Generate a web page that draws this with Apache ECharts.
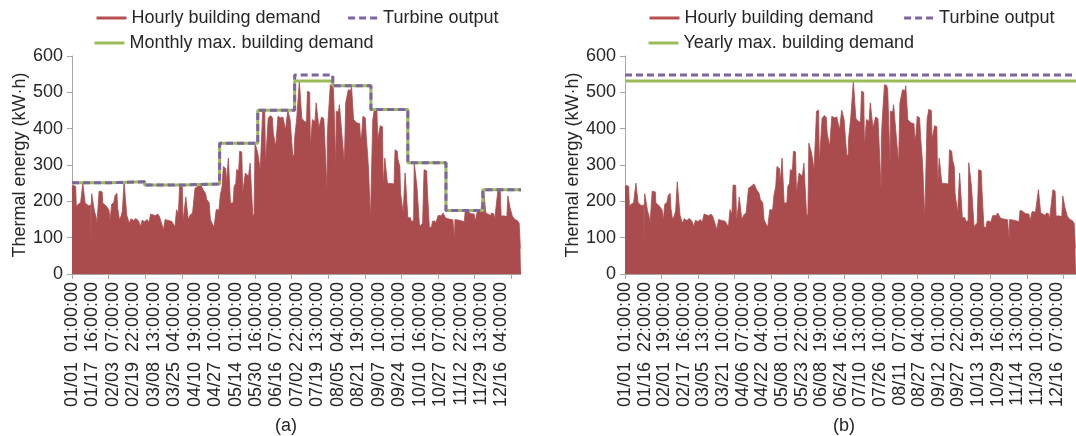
<!DOCTYPE html>
<html>
<head>
<meta charset="utf-8">
<script src="https://cdn.jsdelivr.net/npm/echarts@6/dist/echarts.min.js"></script>
<style>
html,body{margin:0;padding:0;background:#fff;}
#chart{width:1076px;height:436px;}
</style>
</head>
<body>
<div id="chart"></div>
<script>
// ---------- DATA ----------
const monthDays = [31,28,31,30,31,30,31,31,30,31,30,31];

// x tick labels (panel a / panel b)
const labelsA = ['01/01  01:00:00','01/17  16:00:00','02/03  07:00:00','02/19  22:00:00','03/08  13:00:00','03/25  04:00:00','04/10  19:00:00','04/27  10:00:00','05/14  01:00:00','05/30  16:00:00','06/16  07:00:00','07/02  22:00:00','07/19  13:00:00','08/05  04:00:00','08/21  19:00:00','09/07  10:00:00','09/24  01:00:00','10/10  16:00:00','10/27  07:00:00','11/12  22:00:00','11/29  13:00:00','12/16  04:00:00'];
const labelsB = ['01/01  01:00:00','01/16  22:00:00','02/01  19:00:00','02/17  16:00:00','03/05  13:00:00','03/21  10:00:00','04/06  07:00:00','04/22  04:00:00','05/08  01:00:00','05/23  22:00:00','06/08  19:00:00','06/24  16:00:00','07/10  13:00:00','07/26  10:00:00','08/11  07:00:00','08/27  04:00:00','09/12  01:00:00','09/27  22:00:00','10/13  19:00:00','10/29  16:00:00','11/14  13:00:00','11/30  10:00:00','12/16  07:00:00'];

// hourly building demand, envelope vertices: day of year, kW·h
const demandDay = [
0,1,3,3.5,5,7,8.3,8.8,10,10.6,12,13.3,15.2,15.4,15.6,16,17.6,18.3,19.4,20.3,21.4,22,24.5,25,27,28.5,30,31,
32.2,34,35,36.5,37.2,38.5,40,41,42.3,43.8,44.5,46.5,48,50,52,54,55.8,57,59,
61,62.5,64,65.5,67.8,69.5,71,73.1,74.4,75.7,77.5,79,81,83.7,85,86.5,87.5,89.6,90.3,
91.5,92.5,93.4,94.5,96,98,99.3,100,102,103.6,104.4,105.5,106.5,108.5,109.5,111.5,112.5,114.3,115.5,116.2,117.2,119.5,120.5,
122,123,125,125.6,126.5,127.1,128.2,128.8,131,131.8,133.2,133.8,135.5,136.3,138,138.8,140.1,140.9,142.5,143.5,144.8,146.2,147,148,148.8,150.2,151,
152.5,153,154.3,155,156.7,157.3,158.7,159.5,160.8,161.4,162.9,163.6,164.8,165.6,166.6,167.4,168.8,169.4,170.9,171.4,172.8,173.6,174.6,175.4,176.7,177.3,178.9,179.5,180.7,181,
182,182.7,184.2,184.8,186.2,186.8,187.9,188.7,190.6,191.4,193.2,193.8,194.8,195.4,197.5,198.5,200.1,200.7,202,202.8,204.7,205.5,207,207.3,207.5,208.1,209.2,210,211.8,212.6,
214,214.5,214.8,216.6,217.4,218.7,219.3,220.6,221.4,222.5,224.1,224.6,226.7,227.2,228.4,228.9,230.4,231.2,233.8,234.6,235.5,236.5,238.4,239.2,240.5,241.2,241.8,242.6,243.5,
244.5,245.8,247.9,248.5,249.8,250.6,252.4,253,253.8,254.3,255.9,256.4,261.8,262.6,264.4,265,266.5,267.1,268.4,269.2,270.3,270.8,272.4,273,
275,275.8,277.7,278.2,279.8,280.4,281.7,282.5,283.5,285,286.2,288.3,288.9,290.5,292.3,293,295,295.8,296.8,297.6,300.3,301.6,303,303.8,
305.6,306.4,309.6,310.9,311.3,314.9,316.2,318.9,319.7,321.6,322.4,324.2,325.5,326.9,327.7,328.7,329.5,332.2,333.5,
334.6,335.6,336.4,337.5,340.2,341,342.8,343.6,344.7,346.3,348.1,348.9,350.8,353.5,354.3,355.3,356.1,357.4,358,360,362,363.5,364.5,365
];
const demandValue = [
238,244,241,186,192,196,195,250,250,196,193,188,190,62,190,221,219,172,160,140,143,228,226,195,190,184,176,148,
192,197,216,222,180,150,160,175,254,254,162,140,152,147,153,146,131,148,144,
150,142,165,168,160,165,159,136,122,150,148,153,145,130,177,165,245,244,145,
150,212,210,150,162,168,166,236,241,238,248,246,232,222,205,196,150,136,130,131,177,176,215,
241,296,290,250,255,319,316,195,196,241,250,287,285,338,336,223,225,278,276,269,305,300,159,165,360,356,333,
330,287,290,448,451,305,310,429,425,436,430,388,385,351,355,434,430,430,425,432,428,397,395,451,448,425,420,324,330,374,
372,429,425,531,527,429,425,420,418,503,500,351,355,425,420,471,468,402,400,432,428,370,372,228,372,420,418,521,519,507,
505,296,448,446,466,463,388,385,305,471,468,507,505,518,514,425,422,416,414,370,384,434,430,379,320,278,278,150,152,
425,453,450,370,372,408,405,241,245,319,316,250,248,342,338,315,296,223,220,168,170,278,275,155,
155,145,146,306,302,241,238,131,133,140,287,284,230,127,130,145,146,140,142,161,160,168,166,154,
152,150,149,94,150,148,145,144,175,173,168,166,168,165,145,146,172,170,165,
232,230,168,163,161,168,166,150,152,232,228,159,160,158,215,212,182,180,159,150,147,140,72,70
];

const monthlyMax  = [251,254,245,248,360,451,531,518,453,306,175,232];
const turbineA    = [251,254,245,248,360,451,548,518,453,306,175,232];
const yearlyMax   = 531;
const turbineB    = 548;

// ---------- BUILD ----------
const cumDays = [0];
monthDays.forEach((d,i)=>cumDays.push(cumDays[i]+d));
const HOURS = cumDays[12]*24;

function hourIndex(lbl){
  const parts = lbl.trim().split(/\s+/);
  const md = parts[0].split('/').map(Number);
  const hr = Number(parts[1].split(':')[0]);
  return (cumDays[md[0]-1] + md[1]-1)*24 + hr - 1;
}
const mapA = {}, mapB = {};
labelsA.forEach(l=>mapA[hourIndex(l)] = l);
labelsB.forEach(l=>mapB[hourIndex(l)] = l);
const labelHoursA = labelsA.map(hourIndex);
const labelHoursB = labelsB.map(hourIndex);
const tickHoursA = [], tickHoursB = [];
for(let i=0;i<13;i++){ tickHoursA.push(i*714); tickHoursB.push(i*710); }

const demand = demandDay.map((d,i)=>[d*24, demandValue[i]]);
function stepData(vals){
  const out = vals.map((v,i)=>[cumDays[i]*24, v]);
  out.push([HOURS, vals[vals.length-1]]);
  return out;
}

const FONT = "'Liberation Sans', Arial, Helvetica, sans-serif";
const TXT = '#262626';
const AX = '#A6A6A6';
const RED = '#AA4B4E';
const RED_LEG = '#B84E50';
const PURPLE = '#7F64A2';
const GREEN = '#9BBB59';
const DASH = [7,4];

function xAxisCfg(gi, labelHours, tickHours, map){
  return {
    type:'value', gridIndex:gi, min:0, max:HOURS,
    axisLine:{show:true, lineStyle:{color:AX, width:1}},
    axisTick:{show:true, length:5, lineStyle:{color:AX}, customValues:tickHours},
    axisLabel:{show:true, rotate:90, fontSize:18, fontFamily:FONT, color:TXT, margin:8,
      customValues:labelHours, formatter:v=> (map[v]!==undefined ? map[v] : '')},
    splitLine:{show:false}
  };
}
function yAxisCfg(gi, gap){
  return {
    type:'value', gridIndex:gi, min:0, max:600, interval:100,
    name:'Thermal energy (kW·h)', nameLocation:'middle', nameGap:gap,
    nameTextStyle:{fontSize:18, fontFamily:FONT, color:TXT},
    axisLine:{show:true, lineStyle:{color:AX, width:1}},
    axisTick:{show:true, length:5, lineStyle:{color:AX}},
    axisLabel:{fontSize:18, fontFamily:FONT, color:TXT, margin:9},
    splitLine:{show:false}
  };
}

const legendText = {fontSize:18, fontFamily:FONT, color:TXT};
const noSym = {opacity:0};
const legendBase = {padding:0, itemWidth:30, itemHeight:4, textStyle:legendText, itemStyle:noSym};
const legDemand = {name:'Hourly building demand', lineStyle:{width:3, color:RED_LEG, type:'solid'}, itemStyle:noSym};
const legTurbine = {name:'Turbine output', lineStyle:{width:3, color:PURPLE, type:DASH}, itemStyle:noSym};
const chart = echarts.init(document.getElementById('chart'), null, {renderer:'canvas'});
chart.setOption({
  backgroundColor:'#fff',
  animation:false,
  grid:[
    {left:72, top:56, width:449, height:218},
    {left:625, top:56, width:458, height:218}
  ],
  xAxis:[ xAxisCfg(0, labelHoursA, tickHoursA, mapA), xAxisCfg(1, labelHoursB, tickHoursB, mapB) ],
  yAxis:[ yAxisCfg(0, 42), yAxisCfg(1, 42) ],
  legend:[
    Object.assign({left:95, top:9, itemGap:26, data:[legDemand, legTurbine]}, legendBase),
    Object.assign({left:93, top:34,
     data:[{name:'Monthly max. building demand', lineStyle:{width:3, color:GREEN, type:'solid'}, itemStyle:noSym}]}, legendBase),
    Object.assign({left:648, top:9, itemGap:29, data:[legDemand, legTurbine]}, legendBase),
    Object.assign({left:647, top:34,
     data:[{name:'Yearly max. building demand', lineStyle:{width:3, color:GREEN, type:'solid'}, itemStyle:noSym}]}, legendBase)
  ],
  series:[
    {name:'Hourly building demand', type:'line', xAxisIndex:0, yAxisIndex:0, data:demand,
     symbol:'none', showSymbol:false, lineStyle:{color:RED, width:0.8}, itemStyle:{color:RED},
     areaStyle:{color:RED, opacity:1}, z:1},
    {name:'Monthly max. building demand', type:'line', xAxisIndex:0, yAxisIndex:0, data:stepData(monthlyMax),
     step:'end', symbol:'none', lineStyle:{color:GREEN, width:3}, itemStyle:{color:GREEN}, z:2},
    {name:'Turbine output', type:'line', xAxisIndex:0, yAxisIndex:0, data:stepData(turbineA),
     step:'end', symbol:'none', lineStyle:{color:PURPLE, width:3, type:DASH}, itemStyle:{color:PURPLE}, z:3},

    {name:'Hourly building demand', type:'line', xAxisIndex:1, yAxisIndex:1, data:demand,
     symbol:'none', showSymbol:false, lineStyle:{color:RED, width:0.8}, itemStyle:{color:RED},
     areaStyle:{color:RED, opacity:1}, z:1},
    {name:'Yearly max. building demand', type:'line', xAxisIndex:1, yAxisIndex:1,
     data:[[0,yearlyMax],[HOURS,yearlyMax]],
     symbol:'none', lineStyle:{color:GREEN, width:3}, itemStyle:{color:GREEN}, z:2},
    {name:'Turbine output', type:'line', xAxisIndex:1, yAxisIndex:1,
     data:[[0,turbineB],[HOURS,turbineB]],
     symbol:'none', lineStyle:{color:PURPLE, width:3, type:DASH}, itemStyle:{color:PURPLE}, z:3}
  ],
  graphic:[
    {type:'text', left:287-12, top:417, style:{text:'(a)', fontSize:18, fontFamily:FONT, fill:TXT}},
    {type:'text', left:845-12, top:417, style:{text:'(b)', fontSize:18, fontFamily:FONT, fill:TXT}}
  ]
});
</script>
</body>
</html>
